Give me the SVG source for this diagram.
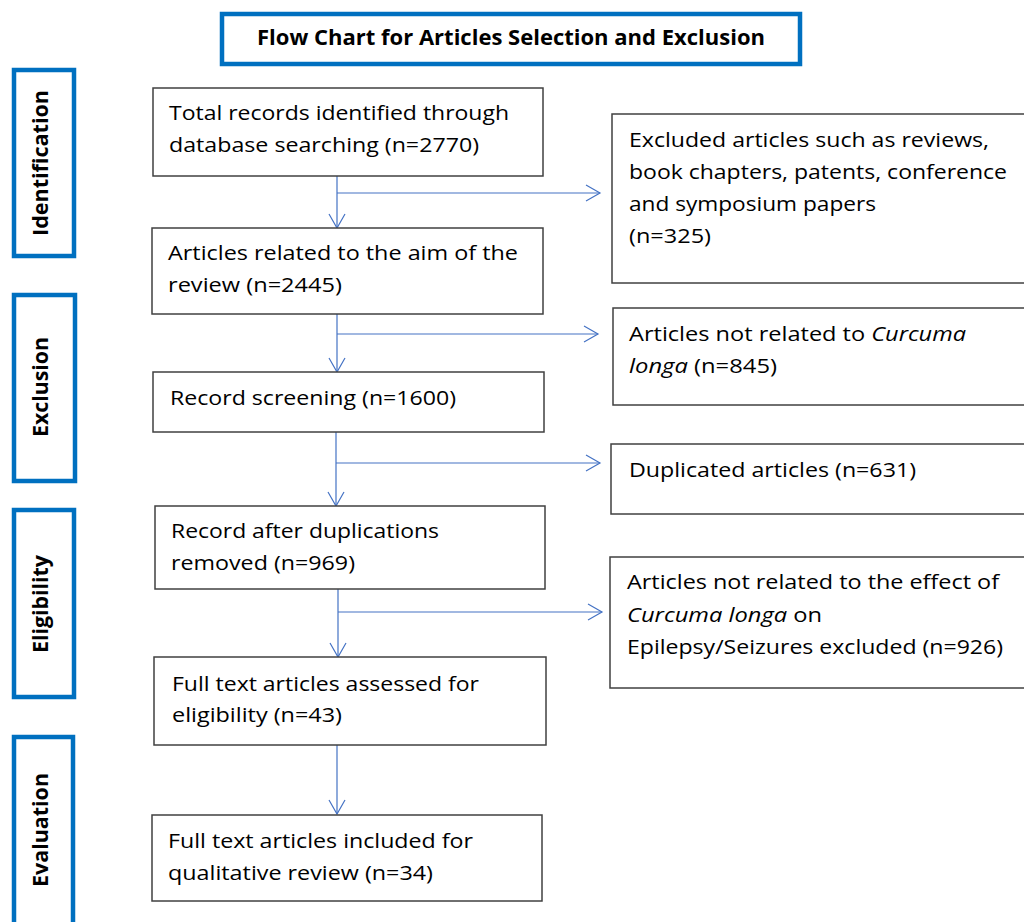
<svg xmlns="http://www.w3.org/2000/svg" width="1024" height="922" viewBox="0 0 1024 922">
<defs>
<style>
.bg{fill:#ffffff}
.phase{fill:#ffffff;stroke:#0070C0;stroke-width:4.5}
.box{fill:#ffffff;stroke:#404040;stroke-width:1.5}
.t{font-family:"Open Sans","Noto Sans",sans-serif;font-size:20px;fill:#000000}
.b{font-family:"Open Sans","Noto Sans",sans-serif;font-size:21.5px;font-weight:bold;fill:#000000}
.conn{fill:none;stroke:#4472C4;stroke-width:1.2}
</style>
<marker id="arr" markerUnits="userSpaceOnUse" markerWidth="20" markerHeight="20" viewBox="-16 -10 18 20" refX="0" refY="0" orient="auto">
<path d="M-14,-8 L0,0 L-14,8" fill="none" stroke="#4472C4" stroke-width="1.2"/>
</marker>
</defs>
<rect class="bg" x="0" y="0" width="1024" height="922"/>

<g id="title">
<rect class="phase" x="222" y="14" width="578" height="50"/>
<text class="b" x="257" y="45" textLength="508" lengthAdjust="spacingAndGlyphs">Flow Chart for Articles Selection and Exclusion</text>
</g>

<g id="phase-identification">
<rect class="phase" x="14" y="70" width="60" height="186"/>
<text class="b" transform="translate(48,163) rotate(-90)" text-anchor="middle" textLength="146" lengthAdjust="spacingAndGlyphs">Identification</text>
</g>
<g id="phase-exclusion">
<rect class="phase" x="14" y="295" width="61" height="186"/>
<text class="b" transform="translate(48,387) rotate(-90)" text-anchor="middle" textLength="100" lengthAdjust="spacingAndGlyphs">Exclusion</text>
</g>
<g id="phase-eligibility">
<rect class="phase" x="14" y="510" width="60" height="187"/>
<text class="b" transform="translate(48,604) rotate(-90)" text-anchor="middle" textLength="98" lengthAdjust="spacingAndGlyphs">Eligibility</text>
</g>
<g id="phase-evaluation">
<rect class="phase" x="14" y="737" width="59" height="200"/>
<text class="b" transform="translate(48,830) rotate(-90)" text-anchor="middle" textLength="114" lengthAdjust="spacingAndGlyphs">Evaluation</text>
</g>

<g id="connectors">
<path class="conn" d="M337,176 V228" marker-end="url(#arr)"/>
<path class="conn" d="M337,193 H600" marker-end="url(#arr)"/>
<path class="conn" d="M337,314 V372" marker-end="url(#arr)"/>
<path class="conn" d="M337,334 H598" marker-end="url(#arr)"/>
<path class="conn" d="M336,432 V506" marker-end="url(#arr)"/>
<path class="conn" d="M336,463 H600" marker-end="url(#arr)"/>
<path class="conn" d="M338,589 V657" marker-end="url(#arr)"/>
<path class="conn" d="M338,612 H602" marker-end="url(#arr)"/>
<path class="conn" d="M337,745 V814" marker-end="url(#arr)"/>
</g>

<g id="n1">
<rect class="box" x="153" y="88" width="390" height="88"/>
<text class="t" x="169" y="120" textLength="340" lengthAdjust="spacingAndGlyphs">Total records identified through</text>
<text class="t" x="169" y="152" textLength="310" lengthAdjust="spacingAndGlyphs">database searching (n=2770)</text>
</g>
<g id="n2">
<rect class="box" x="152" y="228" width="391" height="86"/>
<text class="t" x="168" y="260" textLength="350" lengthAdjust="spacingAndGlyphs">Articles related to the aim of the</text>
<text class="t" x="168" y="292" textLength="174" lengthAdjust="spacingAndGlyphs">review (n=2445)</text>
</g>
<g id="n3">
<rect class="box" x="153" y="372" width="391" height="60"/>
<text class="t" x="170" y="405" textLength="286" lengthAdjust="spacingAndGlyphs">Record screening (n=1600)</text>
</g>
<g id="n4">
<rect class="box" x="155" y="506" width="390" height="83"/>
<text class="t" x="171" y="538" textLength="268" lengthAdjust="spacingAndGlyphs">Record after duplications</text>
<text class="t" x="171" y="570" textLength="184" lengthAdjust="spacingAndGlyphs">removed (n=969)</text>
</g>
<g id="n5">
<rect class="box" x="154" y="657" width="392" height="88"/>
<text class="t" x="172" y="691" textLength="307" lengthAdjust="spacingAndGlyphs">Full text articles assessed for</text>
<text class="t" x="172" y="722" textLength="170" lengthAdjust="spacingAndGlyphs">eligibility (n=43)</text>
</g>
<g id="n6">
<rect class="box" x="152" y="815" width="390" height="86"/>
<text class="t" x="168" y="848" textLength="305" lengthAdjust="spacingAndGlyphs">Full text articles included for</text>
<text class="t" x="168" y="880" textLength="265" lengthAdjust="spacingAndGlyphs">qualitative review (n=34)</text>
</g>

<g id="x1">
<rect class="box" x="612" y="114" width="420" height="169"/>
<text class="t" x="629" y="147" textLength="360" lengthAdjust="spacingAndGlyphs">Excluded articles such as reviews,</text>
<text class="t" x="629" y="179" textLength="378" lengthAdjust="spacingAndGlyphs">book chapters, patents, conference</text>
<text class="t" x="629" y="211" textLength="247" lengthAdjust="spacingAndGlyphs">and symposium papers</text>
<text class="t" x="629" y="243" textLength="82" lengthAdjust="spacingAndGlyphs">(n=325)</text>
</g>
<g id="x2">
<rect class="box" x="613" y="308" width="420" height="97"/>
<text class="t" x="629" y="341" textLength="337" lengthAdjust="spacingAndGlyphs">Articles not related to <tspan font-style="italic">Curcuma</tspan></text>
<text class="t" x="629" y="373" textLength="148" lengthAdjust="spacingAndGlyphs"><tspan font-style="italic">longa</tspan> (n=845)</text>
</g>
<g id="x3">
<rect class="box" x="611" y="444" width="420" height="70"/>
<text class="t" x="629" y="477" textLength="287" lengthAdjust="spacingAndGlyphs">Duplicated articles (n=631)</text>
</g>
<g id="x4">
<rect class="box" x="610" y="557" width="420" height="131"/>
<text class="t" x="627" y="589" textLength="372" lengthAdjust="spacingAndGlyphs">Articles not related to the effect of</text>
<text class="t" x="627" y="622" textLength="195" lengthAdjust="spacingAndGlyphs"><tspan font-style="italic">Curcuma longa</tspan> on</text>
<text class="t" x="627" y="654" textLength="376" lengthAdjust="spacingAndGlyphs">Epilepsy/Seizures excluded (n=926)</text>
</g>
</svg>
